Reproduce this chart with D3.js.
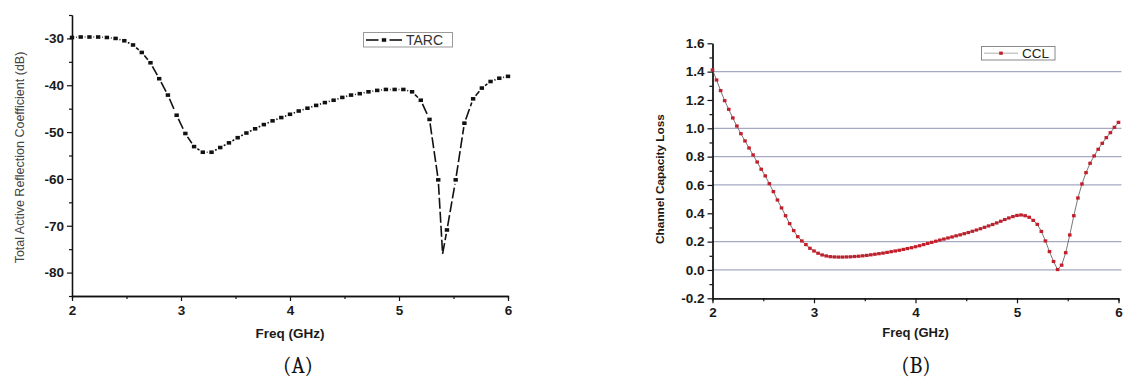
<!DOCTYPE html>
<html>
<head>
<meta charset="utf-8">
<script src="https://cdn.jsdelivr.net/npm/d3@7"></script>
<style>
  html, body { margin: 0; padding: 0; background: #fff; }
  svg { display: block; }
</style>
</head>
<body>
<svg id="chart" width="1126" height="380"></svg>
<script>
// ---------- Data ----------
const tarcFreq = [2.00,2.08,2.16,2.24,2.32,2.40,2.48,2.56,2.64,2.72,2.80,2.88,2.96,3.04,3.12,3.20,3.28,3.36,3.44,3.52,3.60,3.68,3.76,3.84,3.92,4.00,4.08,4.16,4.24,4.32,4.40,4.48,4.56,4.64,4.72,4.80,4.88,4.96,5.04,5.12,5.20,5.28,5.36,5.40,5.44,5.52,5.60,5.68,5.76,5.84,5.92,6.00];
const tarcValues = [-29.8,-29.7,-29.7,-29.7,-29.8,-30.0,-30.5,-31.4,-33.0,-35.2,-38.6,-42.1,-46.4,-50.3,-53.1,-54.3,-54.3,-53.3,-52.3,-51.2,-50.2,-49.3,-48.4,-47.6,-46.9,-46.2,-45.5,-44.9,-44.3,-43.7,-43.2,-42.6,-42.1,-41.8,-41.4,-41.1,-40.9,-40.9,-40.9,-41.4,-43.2,-47.3,-60.2,-76.0,-70.9,-60.2,-48.1,-42.9,-40.6,-39.2,-38.5,-38.1];

const cclFreq = [2.00,2.04,2.08,2.12,2.16,2.20,2.24,2.28,2.32,2.36,2.40,2.44,2.48,2.52,2.56,2.60,2.64,2.68,2.72,2.76,2.80,2.84,2.88,2.92,2.96,3.00,3.04,3.08,3.12,3.16,3.20,3.24,3.28,3.32,3.36,3.40,3.44,3.48,3.52,3.56,3.60,3.64,3.68,3.72,3.76,3.80,3.84,3.88,3.92,3.96,4.00,4.04,4.08,4.12,4.16,4.20,4.24,4.28,4.32,4.36,4.40,4.44,4.48,4.52,4.56,4.60,4.64,4.68,4.72,4.76,4.80,4.84,4.88,4.92,4.96,5.00,5.04,5.08,5.12,5.16,5.20,5.24,5.28,5.32,5.36,5.40,5.44,5.48,5.52,5.56,5.60,5.64,5.68,5.72,5.76,5.80,5.84,5.88,5.92,5.96,6.00];
const cclValues = [1.412,1.341,1.266,1.195,1.134,1.073,1.016,0.962,0.911,0.861,0.812,0.762,0.711,0.664,0.609,0.553,0.494,0.438,0.383,0.327,0.278,0.235,0.205,0.179,0.153,0.134,0.118,0.106,0.099,0.094,0.092,0.091,0.091,0.092,0.093,0.095,0.097,0.100,0.103,0.107,0.111,0.115,0.119,0.124,0.129,0.134,0.139,0.145,0.151,0.157,0.164,0.171,0.179,0.187,0.195,0.203,0.211,0.218,0.226,0.233,0.241,0.248,0.256,0.264,0.273,0.282,0.291,0.301,0.311,0.321,0.332,0.344,0.356,0.367,0.377,0.385,0.388,0.383,0.372,0.350,0.322,0.272,0.205,0.130,0.060,0.003,0.034,0.122,0.247,0.383,0.508,0.607,0.687,0.753,0.805,0.852,0.894,0.934,0.969,1.007,1.042];

const freqTicks = [2, 3, 4, 5, 6];
const freqMinorTicks = [2.5, 3.5, 4.5, 5.5];
const tarcTicks = [-30, -40, -50, -60, -70, -80];
const tarcMinorTicks = [-25, -35, -45, -55, -65, -75, -85];
const cclTicks = [-0.2, 0.0, 0.2, 0.4, 0.6, 0.8, 1.0, 1.2, 1.4, 1.6];
const cclMinorTicks = [-0.1, 0.1, 0.3, 0.5, 0.7, 0.9, 1.1, 1.3, 1.5];
const cclGridLines = [0.0, 0.2, 0.6, 0.8, 1.0, 1.4];

const xTitle = "Freq (GHz)";
const tarcYTitle = "Total Active Reflection Coefficient (dB)";
const cclYTitle = "Channel Capacity Loss";

// ---------- Drawing ----------
const svg = d3.select("#chart");
const sans = "'Liberation Sans', Arial, sans-serif";

function styleAxis(g) {
  g.selectAll(".domain").attr("stroke", "#111").attr("stroke-width", 1.3);
  g.selectAll(".tick line").attr("stroke", "#111").attr("stroke-width", 1.2);
  g.selectAll(".tick text")
    .attr("font-family", sans).attr("font-weight", "bold")
    .attr("font-size", 13.5).attr("fill", "#1a1a1a");
}

// ===== Chart A: TARC =====
const xA = d3.scaleLinear().domain([2, 6]).range([72, 508]);
const yA = d3.scaleLinear().domain([-85, -25]).range([296, 15]);

const gA = svg.append("g");
gA.append("g").attr("transform", `translate(0,${yA(-85)})`)
  .call(d3.axisBottom(xA).tickValues(freqMinorTicks).tickSize(3).tickFormat(""))
  .call(styleAxis);
gA.append("g").attr("transform", `translate(0,${yA(-85)})`)
  .call(d3.axisBottom(xA).tickValues(freqTicks).tickSize(5).tickSizeOuter(0).tickPadding(4).tickFormat(d => String(d)))
  .call(styleAxis);
gA.append("g").attr("transform", `translate(${xA(2)},0)`)
  .call(d3.axisLeft(yA).tickValues(tarcMinorTicks).tickSize(3).tickSizeOuter(0).tickFormat(""))
  .call(styleAxis);
gA.append("g").attr("transform", `translate(${xA(2)},0)`)
  .call(d3.axisLeft(yA).tickValues(tarcTicks).tickSize(5).tickSizeOuter(0).tickPadding(3).tickFormat(d => String(d)))
  .call(styleAxis);

const tarcData = tarcFreq.map((f, i) => ({ f, v: tarcValues[i] }));
// line segments between symbols, with a gap to each symbol (Origin style)
const gapToSymbol = 4;
const segs = [];
for (let i = 0; i < tarcData.length - 1; i++) {
  const x1 = xA(tarcData[i].f), y1 = yA(tarcData[i].v);
  const x2 = xA(tarcData[i + 1].f), y2 = yA(tarcData[i + 1].v);
  const len = Math.hypot(x2 - x1, y2 - y1);
  const g1 = tarcData[i].f === 5.40 ? 0 : gapToSymbol;
  const g2 = tarcData[i + 1].f === 5.40 ? 0 : gapToSymbol;
  if (len <= g1 + g2 + 0.5) continue;
  const ux = (x2 - x1) / len, uy = (y2 - y1) / len;
  segs.push({ x1: x1 + ux * g1, y1: y1 + uy * g1, x2: x2 - ux * g2, y2: y2 - uy * g2 });
}
gA.append("g").selectAll("line")
  .data(segs)
  .join("line")
  .attr("x1", d => d.x1).attr("y1", d => d.y1)
  .attr("x2", d => d.x2).attr("y2", d => d.y2)
  .attr("stroke", "#111")
  .attr("stroke-width", 1.6)
  .attr("stroke-dasharray", "11,3");
gA.append("g").selectAll("rect")
  .data(tarcData.filter(d => d.f !== 5.40))
  .join("rect")
  .attr("x", d => xA(d.f) - 2.2)
  .attr("y", d => yA(d.v) - 1.8)
  .attr("width", 4.4)
  .attr("height", 3.6)
  .attr("fill", "#111");

gA.append("text")
  .attr("transform", `translate(24,${(yA(-25) + yA(-85)) / 2 + 2}) rotate(-90)`)
  .attr("text-anchor", "middle")
  .attr("font-family", sans).attr("font-size", 12.5).attr("fill", "#444")
  .text(tarcYTitle);
gA.append("text")
  .attr("x", (xA(2) + xA(6)) / 2).attr("y", 338)
  .attr("text-anchor", "middle")
  .attr("font-family", sans).attr("font-weight", "bold").attr("font-size", 13.5).attr("fill", "#1a1a1a")
  .text(xTitle);
gA.append("text")
  .attr("x", 298).attr("y", 373)
  .attr("text-anchor", "middle")
  .attr("font-family", "Cambria, 'Liberation Serif', serif").attr("font-size", 22).attr("fill", "#111")
  .text("(A)");

// legend A
const lgA = gA.append("g");
lgA.append("rect").attr("x", 363.5).attr("y", 32.5).attr("width", 89).attr("height", 14.5)
  .attr("fill", "#fff").attr("stroke", "#999").attr("stroke-width", 1);
lgA.append("line").attr("x1", 366).attr("x2", 378.5).attr("y1", 40).attr("y2", 40).attr("stroke", "#111").attr("stroke-width", 1.6);
lgA.append("line").attr("x1", 389.5).attr("x2", 402).attr("y1", 40).attr("y2", 40).attr("stroke", "#111").attr("stroke-width", 1.6);
lgA.append("rect").attr("x", 381.8).attr("y", 38.2).attr("width", 4.4).attr("height", 3.6).attr("fill", "#111");
lgA.append("text").attr("x", 406).attr("y", 45).attr("font-family", sans).attr("font-size", 14).attr("fill", "#333").text("TARC");

// ===== Chart B: CCL =====
const xB = d3.scaleLinear().domain([2, 6]).range([712.5, 1118.5]);
const yB = d3.scaleLinear().domain([-0.2, 1.6]).range([298.3, 43.3]);

const gB = svg.append("g");
gB.append("g").selectAll("line")
  .data(cclGridLines)
  .join("line")
  .attr("x1", xB(2)).attr("x2", xB(6) + 3)
  .attr("y1", d => yB(d)).attr("y2", d => yB(d))
  .attr("stroke", "#a6a9c4").attr("stroke-width", 1.2);

gB.append("g").attr("transform", `translate(0,${yB(-0.2)})`)
  .call(d3.axisBottom(xB).tickValues(freqMinorTicks).tickSize(3).tickFormat(""))
  .call(styleAxis);
gB.append("g").attr("transform", `translate(0,${yB(-0.2)})`)
  .call(d3.axisBottom(xB).tickValues(freqTicks).tickSize(5).tickSizeOuter(0).tickPadding(4).tickFormat(d => String(d)))
  .call(styleAxis);
gB.append("g").attr("transform", `translate(${xB(2)},0)`)
  .call(d3.axisLeft(yB).tickValues(cclMinorTicks).tickSize(3).tickSizeOuter(0).tickFormat(""))
  .call(styleAxis);
gB.append("g").attr("transform", `translate(${xB(2)},0)`)
  .call(d3.axisLeft(yB).tickValues(cclTicks).tickSize(5).tickSizeOuter(0).tickPadding(3).tickFormat(d => d.toFixed(1)))
  .call(styleAxis);

const cclData = cclFreq.map((f, i) => ({ f, v: cclValues[i] }));
gB.append("path")
  .datum(cclData)
  .attr("fill", "none")
  .attr("stroke", "#555")
  .attr("stroke-width", 0.8)
  .attr("d", d3.line().x(d => xB(d.f)).y(d => yB(d.v)));
gB.append("g").selectAll("rect")
  .data(cclData)
  .join("rect")
  .attr("x", d => xB(d.f) - 1.8)
  .attr("y", d => yB(d.v) - 1.6)
  .attr("width", 3.6)
  .attr("height", 3.2)
  .attr("fill", "#c21f2c");

gB.append("text")
  .attr("transform", `translate(664,${179}) rotate(-90)`)
  .attr("text-anchor", "middle")
  .attr("font-family", sans).attr("font-weight", "bold").attr("font-size", 11.8).attr("fill", "#1a1a1a")
  .text(cclYTitle);
gB.append("text")
  .attr("x", (xB(2) + xB(6)) / 2).attr("y", 337)
  .attr("text-anchor", "middle")
  .attr("font-family", sans).attr("font-weight", "bold").attr("font-size", 13).attr("fill", "#1a1a1a")
  .text(xTitle);
gB.append("text")
  .attr("x", 916).attr("y", 373)
  .attr("text-anchor", "middle")
  .attr("font-family", "Cambria, 'Liberation Serif', serif").attr("font-size", 22).attr("fill", "#111")
  .text("(B)");

// legend B
const lgB = gB.append("g");
lgB.append("rect").attr("x", 981.5).attr("y", 46.5).attr("width", 73.5).attr("height", 13.5)
  .attr("fill", "#fff").attr("stroke", "#888").attr("stroke-width", 1);
lgB.append("line").attr("x1", 984).attr("x2", 1018).attr("y1", 53.2).attr("y2", 53.2).attr("stroke", "#999").attr("stroke-width", 0.8);
lgB.append("rect").attr("x", 999.2).attr("y", 51.6).attr("width", 3.6).attr("height", 3.2).attr("fill", "#c21f2c");
lgB.append("text").attr("x", 1022).attr("y", 58.3).attr("font-family", sans).attr("font-size", 13.5).attr("fill", "#222").text("CCL");
</script>
</body>
</html>
